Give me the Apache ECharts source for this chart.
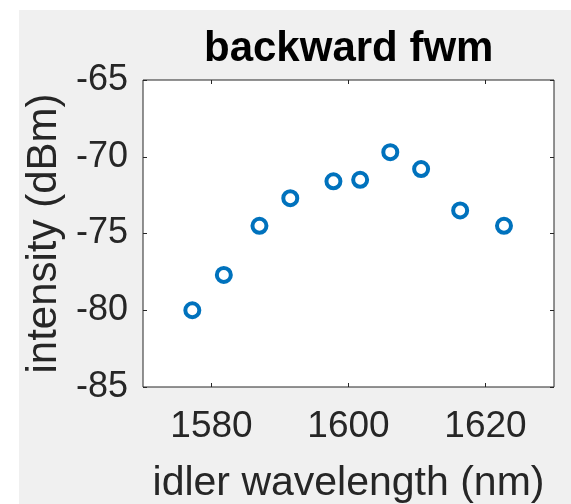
<!DOCTYPE html>
<html>
<head>
<meta charset="utf-8">
<script src="https://cdn.jsdelivr.net/npm/echarts@6/dist/echarts.min.js"></script>
<style>
html,body{margin:0;padding:0;background:#fff;}
#c{width:571px;height:504px;}
</style>
</head>
<body>
<div id="c"></div>
<script>
// Data
const wavelength = [1577.2, 1581.8, 1587.0, 1591.5, 1597.8, 1601.7, 1606.1, 1610.6, 1616.3, 1622.7];
const intensity  = [-80.0, -77.7, -74.5, -72.7, -71.6, -71.5, -69.7, -70.8, -73.5, -74.5];
const xTicks = [1580, 1600, 1620];
const yTicks = [-85, -80, -75, -70, -65];
const titleText = 'backward fwm';
const xName = 'idler wavelength (nm)';
const yName = 'intensity (dBm)';

const points = wavelength.map((w, i) => [w, intensity[i]]);
const axisColor = '#262626';
const font = 'Liberation Sans, Arial, Helvetica, sans-serif';

const chart = echarts.init(document.getElementById('c'), null, {renderer: 'canvas'});
const xBase = {
  type: 'value', min: 1570, max: 1630,
  axisLine: {show: false}, splitLine: {show: false}
};
const yBase = {
  type: 'value', min: -85, max: -65, interval: 5,
  axisLine: {show: false}, splitLine: {show: false}
};
chart.setOption({
  backgroundColor: '#f0f0f0',
  animation: false,
  graphic: [
    {type: 'rect', shape: {x: 0, y: 0, width: 19, height: 504}, style: {fill: '#fff'}, z: -10, silent: true},
    {type: 'rect', shape: {x: 0, y: 0, width: 571, height: 10}, style: {fill: '#fff'}, z: -10, silent: true}
  ],
  title: {
    text: titleText, left: 204, top: 28, padding: 0,
    textStyle: {fontFamily: font, fontWeight: 'bold', fontSize: 42, color: '#000'}
  },
  grid: {
    left: 143, right: 17, top: 80, bottom: 117,
    outerBoundsMode: 'none', containLabel: false,
    show: true, backgroundColor: '#fff', borderColor: axisColor, borderWidth: 1
  },
  xAxis: [
    Object.assign({}, xBase, {
      position: 'bottom',
      name: xName, nameLocation: 'middle', nameGap: 76,
      nameTextStyle: {fontFamily: font, fontSize: 41, color: axisColor},
      axisTick: {show: true, inside: true, length: 4, customValues: xTicks, lineStyle: {color: axisColor}},
      axisLabel: {show: true, margin: 21, customValues: xTicks, fontFamily: font, fontSize: 37, color: axisColor,
        formatter: v => String(v)}
    }),
    Object.assign({}, xBase, {
      position: 'top',
      axisTick: {show: true, inside: true, length: 4, customValues: xTicks, lineStyle: {color: axisColor}},
      axisLabel: {show: false}
    })
  ],
  yAxis: [
    Object.assign({}, yBase, {
      position: 'left',
      name: yName, nameLocation: 'middle', nameGap: 76,
      nameTextStyle: {fontFamily: font, fontSize: 42, color: axisColor},
      axisTick: {show: true, inside: true, length: 4, lineStyle: {color: axisColor}},
      axisLabel: {show: true, margin: 15, fontFamily: font, fontSize: 36, color: axisColor,
        customValues: yTicks, formatter: v => String(v)}
    }),
    Object.assign({}, yBase, {
      position: 'right',
      axisTick: {show: true, inside: true, length: 4, lineStyle: {color: axisColor}},
      axisLabel: {show: false}
    })
  ],
  series: [{
    type: 'scatter',
    xAxisIndex: 0, yAxisIndex: 0,
    data: points,
    symbol: 'circle',
    symbolSize: 14,
    itemStyle: {color: '#fff', borderColor: '#0072BD', borderWidth: 4, opacity: 1}
  }]
});
</script>
</body>
</html>
